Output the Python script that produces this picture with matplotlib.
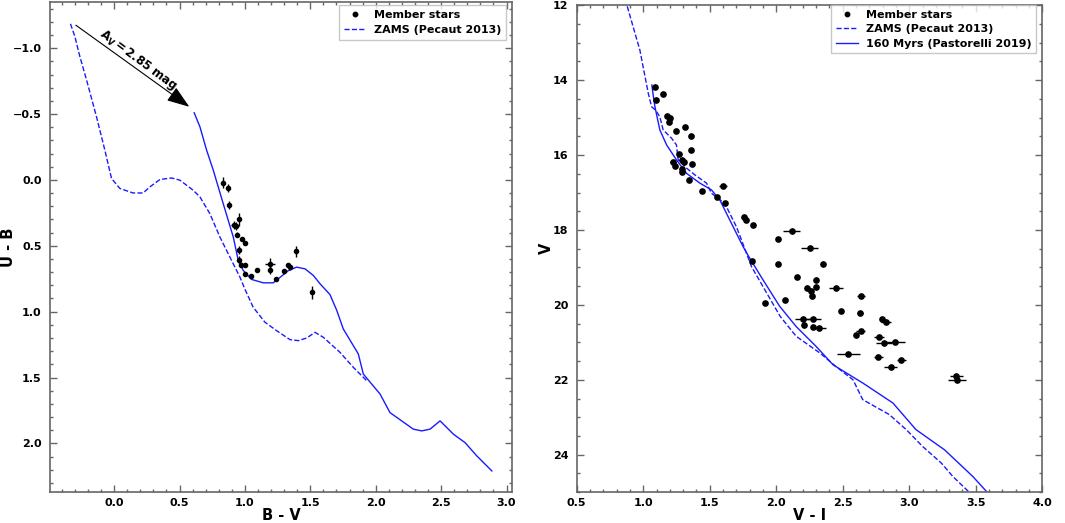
import numpy as np
import matplotlib.pyplot as plt
from matplotlib.ticker import MultipleLocator
from matplotlib.lines import Line2D

plt.rcParams['font.weight'] = 'bold'
plt.rcParams['axes.labelweight'] = 'bold'
plt.rcParams['mathtext.default'] = 'bf'

# --- panel (a): U-B vs B-V ---
bv_stars = [0.829, 0.870, 0.878, 0.957, 0.913, 0.931, 0.936, 0.977, 1.002, 0.952,
            0.957, 0.972, 0.998, 1.002, 1.050, 1.094, 1.191, 1.191, 1.237, 1.300,
            1.331, 1.344, 1.388, 1.510]
ub_stars = [0.020, 0.058, 0.190, 0.300, 0.340, 0.350, 0.416, 0.449, 0.477, 0.535,
            0.606, 0.644, 0.644, 0.712, 0.733, 0.682, 0.636, 0.687, 0.750, 0.692,
            0.644, 0.662, 0.543, 0.852]
bv_err = [0.005, 0.005, 0.005, 0.008, 0.02, 0.008, 0.01, 0.005, 0.005, 0.01,
          0.01, 0.005, 0.005, 0.005, 0.005, 0.005, 0.04, 0.005, 0.005, 0.005,
          0.005, 0.01, 0.005, 0.005]
ub_err = [0.04, 0.03, 0.03, 0.05, 0.03, 0.03, 0.02, 0.01, 0.01, 0.03,
          0.03, 0.02, 0.01, 0.01, 0.01, 0.01, 0.04, 0.03, 0.01, 0.01,
          0.01, 0.02, 0.04, 0.05]

zams_bv = [-0.334, -0.300, -0.262, -0.211, -0.135, -0.071, -0.020, 0.044, 0.145, 0.222,
           0.273, 0.350, 0.439, 0.503, 0.604, 0.656, 0.732, 0.809, 0.885, 0.962,
           1.000, 1.063, 1.153, 1.242, 1.344, 1.408, 1.472, 1.536, 1.600, 1.727,
           1.829, 1.931]
zams_ub = [-1.185, -1.088, -0.936, -0.759, -0.480, -0.226, -0.011, 0.065, 0.099, 0.099,
           0.053, -0.003, -0.015, 0.002, 0.078, 0.129, 0.256, 0.434, 0.586, 0.738,
           0.830, 0.966, 1.080, 1.144, 1.212, 1.220, 1.200, 1.157, 1.195, 1.309,
           1.423, 1.524]

iso_bv = [0.612, 0.656, 0.707, 0.758, 0.834, 0.911, 0.949, 0.987, 1.050, 1.140,
          1.217, 1.268, 1.330, 1.395, 1.460, 1.523, 1.574, 1.650, 1.702, 1.752,
          1.867, 1.905, 2.033, 2.109, 2.288, 2.352, 2.415, 2.492, 2.594, 2.683,
          2.773, 2.888]
iso_ub = [-0.510, -0.403, -0.226, -0.074, 0.180, 0.434, 0.611, 0.687, 0.755, 0.781,
          0.781, 0.740, 0.690, 0.662, 0.675, 0.725, 0.788, 0.870, 0.990, 1.131,
          1.321, 1.473, 1.625, 1.766, 1.892, 1.905, 1.892, 1.829, 1.930, 1.994,
          2.095, 2.209]

# reddening vector (start, end)
arrow_bv = [-0.31, 0.592]
arrow_ub = [-1.187, -0.543]

# --- panel (b): V vs V-I ---
vi_stars = [1.088, 1.098, 1.150, 1.176, 1.200, 1.193, 1.243, 1.313, 1.356, 1.356,
            1.366, 1.266, 1.288, 1.303, 1.225, 1.240, 1.288, 1.293, 1.345, 1.440,
            1.551, 1.600, 1.613, 1.754, 1.771, 1.826, 2.011, 2.116, 2.250, 1.821,
            2.011, 2.351, 2.156, 2.299, 2.302, 2.231, 2.259, 2.272, 2.447, 2.634,
            2.066, 1.919, 2.490, 2.629, 2.199, 2.276, 2.209, 2.276, 2.319, 2.794,
            2.824, 2.634, 2.597, 2.772, 2.812, 2.895, 2.542, 2.767, 2.940, 2.860,
            3.353, 3.360]
v_stars = [14.19, 14.53, 14.38, 14.97, 15.02, 15.13, 15.35, 15.24, 15.50, 15.87,
           16.24, 15.97, 16.13, 16.18, 16.19, 16.29, 16.38, 16.45, 16.67, 16.95,
           17.13, 16.83, 17.28, 17.65, 17.74, 17.87, 18.25, 18.02, 18.48, 18.83,
           18.90, 18.90, 19.25, 19.34, 19.51, 19.55, 19.63, 19.76, 19.54, 19.76,
           19.86, 19.96, 20.16, 20.22, 20.39, 20.38, 20.55, 20.59, 20.61, 20.39,
           20.45, 20.69, 20.81, 20.85, 21.03, 21.00, 21.32, 21.39, 21.48, 21.66,
           21.89, 22.01]
vi_err = [0.005, 0.005, 0.005, 0.005, 0.005, 0.005, 0.005, 0.005, 0.005, 0.005,
          0.005, 0.005, 0.01, 0.005, 0.02, 0.005, 0.005, 0.005, 0.005, 0.005,
          0.005, 0.03, 0.005, 0.005, 0.005, 0.005, 0.005, 0.065, 0.063, 0.005,
          0.005, 0.005, 0.005, 0.005, 0.005, 0.005, 0.005, 0.005, 0.052, 0.03,
          0.005, 0.005, 0.01, 0.02, 0.06, 0.06, 0.005, 0.01, 0.055, 0.01,
          0.035, 0.035, 0.01, 0.035, 0.06, 0.07, 0.085, 0.035, 0.035, 0.05,
          0.05, 0.07]

zams_vi = [0.880, 0.975, 1.038, 1.063, 1.093, 1.125, 1.150, 1.213, 1.250, 1.263,
           1.326, 1.388, 1.476, 1.513, 1.613, 1.700, 1.739, 1.814, 1.900, 2.030,
           2.150, 2.330, 2.450, 2.577, 2.650, 2.850, 2.977, 3.100, 3.240, 3.327,
           3.450]
zams_v = [12.03, 13.20, 14.35, 14.71, 14.80, 14.98, 15.33, 15.55, 15.73, 16.13,
          16.35, 16.53, 16.75, 17.02, 17.29, 17.91, 18.27, 18.98, 19.51, 20.31,
          20.84, 21.29, 21.65, 22.00, 22.53, 22.93, 23.33, 23.78, 24.22, 24.58,
          25.00]

iso_vi = [1.065, 1.075, 1.088, 1.125, 1.176, 1.250, 1.326, 1.426, 1.513, 1.576,
          1.650, 1.688, 1.750, 1.800, 1.900, 2.026, 2.150, 2.300, 2.427, 2.652,
          2.877, 3.050, 3.265, 3.477, 3.585]
iso_v = [14.13, 14.40, 14.71, 15.33, 15.73, 16.13, 16.49, 16.75, 16.93, 17.20,
         17.73, 18.00, 18.44, 18.75, 19.33, 20.04, 20.58, 21.11, 21.60, 22.09,
         22.62, 23.33, 23.87, 24.58, 25.00]

blue = '#1a1aff'
frame = '#666666'

fig = plt.figure(figsize=(10.65, 5.23), dpi=100)
ax1 = fig.add_axes([0.047, 0.059, 0.4335, 0.937])
ax2 = fig.add_axes([0.5415, 0.059, 0.4372, 0.931])


def style(ax):
    ax.tick_params(which='both', direction='in', top=True, right=True, colors=frame,
                   labelcolor='black', labelsize=8)
    ax.tick_params(axis='x', which='both', pad=4)
    ax.tick_params(axis='y', which='both', pad=6)
    ax.tick_params(which='major', length=5, width=1)
    ax.tick_params(which='minor', length=2.5, width=1)
    for s in ax.spines.values():
        s.set_color(frame)
        s.set_linewidth(1.2)
    for lab in ax.get_xticklabels() + ax.get_yticklabels():
        lab.set_fontweight('bold')


def add_legend(ax, handles, anchor, spacing):
    leg = ax.legend(handles=handles, loc='upper right', bbox_to_anchor=anchor,
                    borderaxespad=0, fontsize=8, fancybox=False, edgecolor='#bbbbbb',
                    handlelength=2.0, handletextpad=0.7, labelspacing=spacing)
    for t in leg.get_texts():
        t.set_fontweight('bold')


star_handle = Line2D([], [], marker='o', ls='none', color='black', ms=3.2,
                     label='Member stars')

# left panel
ax1.errorbar(bv_stars, ub_stars, xerr=bv_err, yerr=ub_err, fmt='o', color='black',
             ms=3, elinewidth=1, capsize=0)
z1, = ax1.plot(zams_bv, zams_ub, '--', color=blue, lw=1, label='ZAMS (Pecaut 2013)')
ax1.plot(iso_bv, iso_ub, '-', color=blue, lw=1)
ax1.annotate('', xy=(arrow_bv[1], arrow_ub[1]), xytext=(arrow_bv[0], arrow_ub[0]),
             arrowprops=dict(arrowstyle='-|>,head_length=1.4,head_width=0.5',
                             color='black', lw=0.8))
ax1.text(0.184, -0.905, r'$A_V = 2.85$ mag', rotation=-36.5, ha='center', va='center',
         fontsize=8.5, fontweight='bold')
ax1.set_xlim(-0.49, 3.04)
ax1.set_ylim(2.37, -1.35)
ax1.xaxis.set_major_locator(MultipleLocator(0.5))
ax1.xaxis.set_minor_locator(MultipleLocator(0.1))
ax1.yaxis.set_major_locator(MultipleLocator(0.5))
ax1.yaxis.set_minor_locator(MultipleLocator(0.1))
ax1.set_xlabel('B - V', fontsize=10.5, fontweight='bold', va='center')
ax1.set_ylabel('U - B', fontsize=10.5, fontweight='bold', va='center')
ax1.xaxis.set_label_coords(0.5, -0.048)
ax1.yaxis.set_label_coords(-0.090, 0.5)
style(ax1)
add_legend(ax1, [star_handle, z1], (1 - 6 / 461.7, 1 - 3 / 490), 0.5)

# right panel
ax2.errorbar(vi_stars, v_stars, xerr=vi_err, yerr=0.02, fmt='o', color='black',
             ms=3.8, elinewidth=1, capsize=0)
z2, = ax2.plot(zams_vi, zams_v, '--', color=blue, lw=1, label='ZAMS (Pecaut 2013)')
i2, = ax2.plot(iso_vi, iso_v, '-', color=blue, lw=1, label='160 Myrs (Pastorelli 2019)')
ax2.set_xlim(0.5, 4.0)
ax2.set_ylim(25, 12)
ax2.xaxis.set_major_locator(MultipleLocator(0.5))
ax2.xaxis.set_minor_locator(MultipleLocator(0.1))
ax2.yaxis.set_major_locator(MultipleLocator(2))
ax2.yaxis.set_minor_locator(MultipleLocator(0.5))
ax2.set_xlabel('V - I', fontsize=10.5, fontweight='bold', va='center')
ax2.set_ylabel('V', fontsize=10.5, fontweight='bold', va='center')
ax2.xaxis.set_label_coords(0.5, -0.048)
ax2.yaxis.set_label_coords(-0.066, 0.5)
style(ax2)
add_legend(ax2, [star_handle, z2, i2], (1 - 6.6 / 465.6, 1.0), 0.42)

fig.savefig('out.png', dpi=100)
